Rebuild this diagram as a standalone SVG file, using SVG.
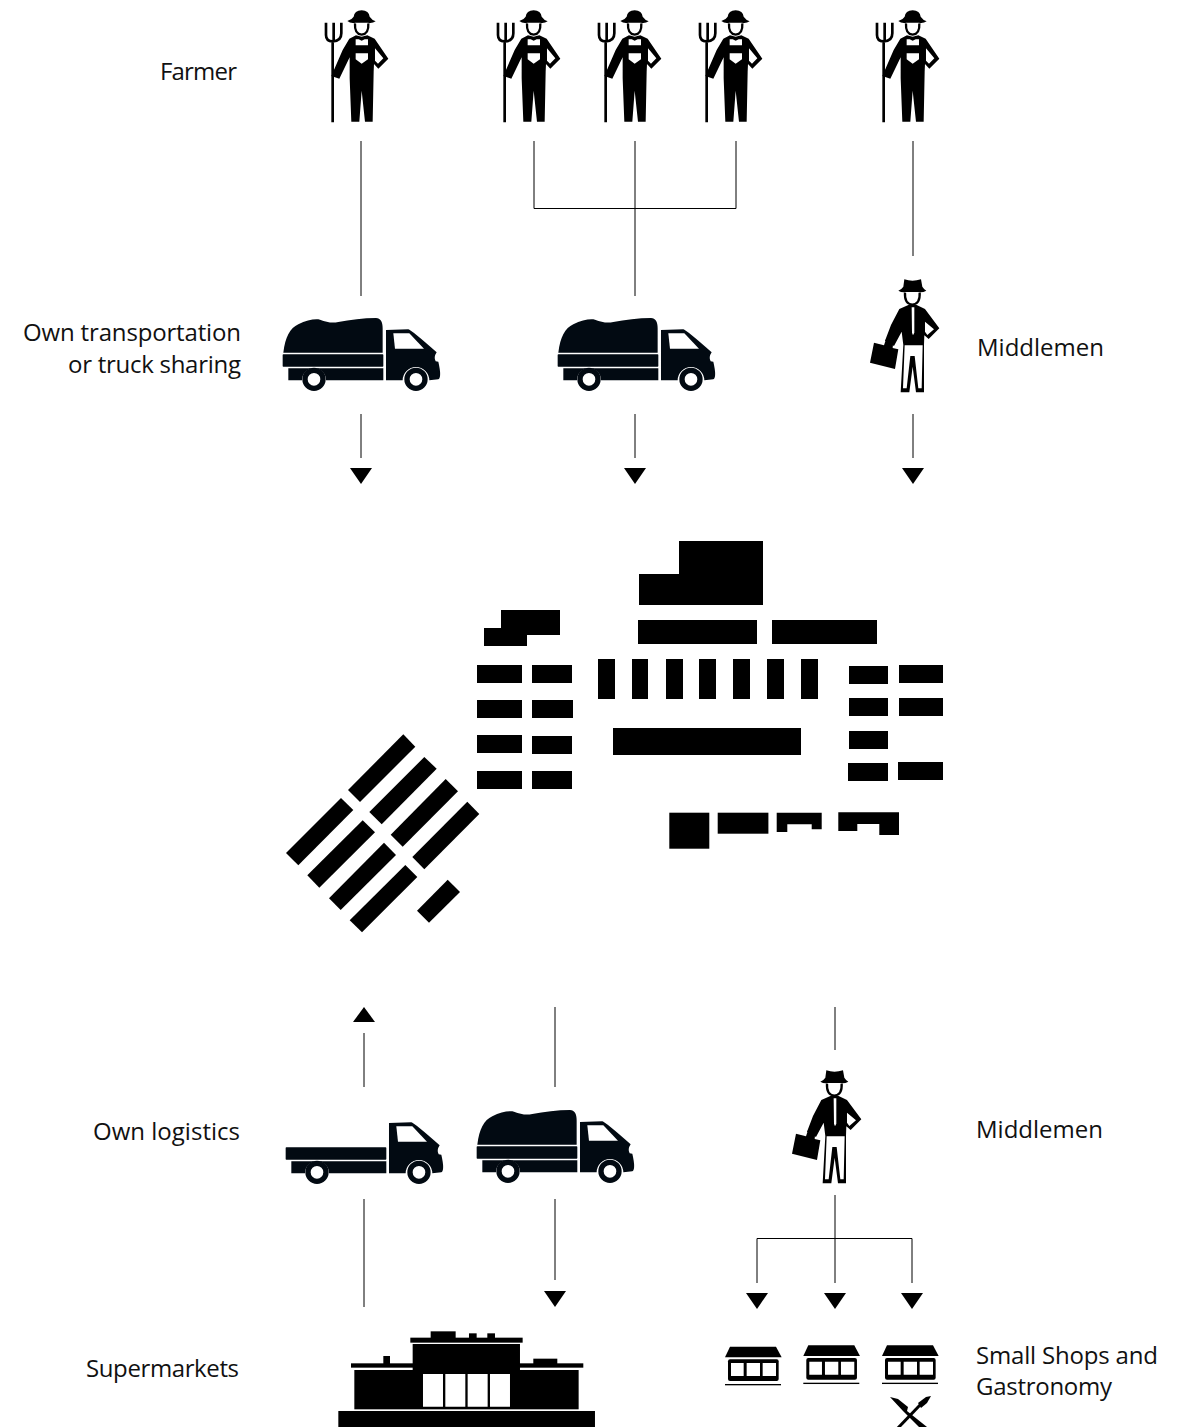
<svg xmlns="http://www.w3.org/2000/svg" width="1183" height="1427" viewBox="0 0 1183 1427">
<style>
text{font-family:"Open Sans","Noto Sans",sans-serif;font-size:24px;fill:#111}
.e{text-anchor:end}
.l{stroke:#000;stroke-width:1;fill:none}
.truck{fill:#020a12}
</style>
<defs>
<polygon id="down" points="-11,0 11,0 0,16" fill="#000"/>
<g id="farmer" transform="translate(310,0) scale(.3333)">
<path d="M112 63Q125 60 131 50Q133 32 155 31Q177 32 179 50Q186 60 197 64Q186 71 174 68L136 68Q122 71 112 63Z"/>
<path d="M135 70Q133 102 155 104Q177 102 175 70" fill="none" stroke="#000" stroke-width="7"/>
<path d="M118 116L138 106L155 110L172 106L194 116L235 176L205 206L192 192L191 215L188 365L165 365L155 272L148 365L124 365L119 235L119 172L88 236L64 228L98 150Z"/>
<path d="M137 118L146 118L155 122L164 118L174 118L174 136L137 136Z M137 160L174 160L174 178L155 191L137 178Z M195 145L220 175L204 191L195 182Z" fill="#fff"/>
<path d="M48 68L48 105Q48 124 68 124Q94 124 94 100L94 68M71 68L71 124M68 124L68 367" fill="none" stroke="#000" stroke-width="8"/>
</g>
<g id="chassis" class="truck" transform="translate(270,300) scale(.3333)">
<rect x="38" y="163" width="302" height="37" rx="2"/>
<path d="M55 205L340 205L340 241L168 241A36 36 0 0 0 96 241L55 241Z"/>
<path d="M348 90L415 88Q424 90 500 157Q490 172 497 184L505 185Q516 232 505 238L478 241A40 40 0 0 0 398 241L348 241Z"/>
<path d="M370 100L418 100L462 146L375 146Z" fill="#fff"/>
<circle cx="132" cy="238" r="27" fill="#fff" stroke="#020a12" stroke-width="16"/>
<circle cx="438" cy="238" r="27" fill="#fff" stroke="#020a12" stroke-width="16"/>
</g>
<g id="tarptruck">
<use href="#chassis"/>
<path class="truck" transform="translate(270,300) scale(.3333)" d="M40 158C46 110 60 85 85 73C110 60 135 56 150 59C170 66 185 70 205 66C240 60 280 54 318 54C332 55 338 65 338 85L338 158Z"/>
</g>
<g id="man" transform="translate(860,270) scale(.3333)">
<path d="M115 62Q125 58 130 50L133 28Q157 36 183 28L187 50Q192 58 199 62Q188 68 175 66L138 66Q125 68 115 62Z"/>
<path d="M135 68Q133 102 157 104Q181 102 179 68" fill="none" stroke="#000" stroke-width="7"/>
<path d="M118 117L145 105L170 105L195 117L238 175L206 207L193 196L192 225L192 367L168 367L158 290L148 367L122 367L130 225L125 185L102 228L75 212L93 165Z"/>
<path d="M155 112L163 112L163 188L159 196L156 188Z M134 226L188 226L185 355L175 355L164 258L151 258L140 355L129 355Z M195 155L222 178L202 195L195 185Z" fill="#fff"/>
<path d="M42 218L72 226L78 208L100 212L98 234L115 238L105 297L30 278Z"/>
</g>
<g id="shop" transform="translate(710,1330) scale(.3333)">
<path d="M60 50L198 50L215 82L45 82Z"/>
<rect x="54" y="88" width="152" height="65" rx="6"/>
<path d="M63 99h38v39h-38zM110 99h40v39h-40zM158 99h40v39h-40z" fill="#fff"/>
<rect x="45" y="162" width="168" height="4"/>
</g>
</defs>

<g id="connectors">
<path class="l" d="M361 141V296M534 141V208.500M635 141V296M736 141V208.500M534 208.500H736M913 141V256M361 414V458M635 414V458M913 414V458M364 1033V1087M555 1007V1087M835 1007V1050M364 1199V1307M555 1199V1280M835 1195V1283M757 1283V1238.500H912V1283"/>
<use href="#down" x="361" y="468"/>
<use href="#down" x="635" y="468"/>
<use href="#down" x="913" y="468"/>
<polygon points="353,1022 375,1022 364,1007"/>
<use href="#down" x="555" y="1291"/>
<use href="#down" x="757" y="1293"/>
<use href="#down" x="835" y="1293"/>
<use href="#down" x="912" y="1293"/>
</g>

<g id="farmer-1"><use href="#farmer"/></g>
<g id="farmer-2"><use href="#farmer" x="172"/></g>
<g id="farmer-3"><use href="#farmer" x="273"/></g>
<g id="farmer-4"><use href="#farmer" x="374"/></g>
<g id="farmer-5"><use href="#farmer" x="551"/></g>
<g id="truck-1"><use href="#tarptruck"/></g>
<g id="truck-2"><use href="#tarptruck" x="275"/></g>
<g id="middleman-1"><use href="#man"/></g>

<g id="market">
<polygon points="679,541 763,541 763,605 639,605 639,574 679,574"/>
<rect x="638" y="620" width="119" height="24"/>
<rect x="772" y="620" width="105" height="24"/>
<polygon points="501,610 560,610 560,635 527,635 527,646 484,646 484,628 501,628"/>
<path d="M477 665h45v18h-45zM532 665h40v18h-40zM477 700h45v18h-45zM532 700h41v18h-41zM477 735h45v18h-45zM532 736h40v18h-40zM477 771h45v18h-45zM532 771h40v18h-40z"/>
<path d="M598 659h17v40h-17zM632 659h16v40h-16zM666 659h17v40h-17zM699 659h17v40h-17zM733 659h17v40h-17zM767 659h17v40h-17zM801 659h17v40h-17z"/>
<rect x="613" y="728" width="188" height="27"/>
<path d="M849 666h39v18h-39zM899 665h44v18h-44zM849 698h39v18h-39zM899 698h44v18h-44zM849 731h39v18h-39zM848 763h40v18h-40zM898 762h45v18h-45z"/>
<rect x="669.300" y="812.700" width="40" height="36"/>
<rect x="717.700" y="812.700" width="50.700" height="21"/>
<polygon points="776.700,812.700 821.700,812.700 821.700,829.300 811.700,829.300 811.700,824.300 787.300,824.300 787.300,832 776.700,832"/>
<polygon points="838.300,812.300 899,812.300 899,835 879.300,835 879.300,824 857.300,824 857.300,831 838.300,831"/>
<polygon points="403.300,734.300 415.300,746.700 360,802 348,790"/>
<polygon points="341,798 353.300,810 298.300,865.300 286,853"/>
<polygon points="424.300,757 436.700,768.700 381.700,824.300 369.300,812"/>
<polygon points="362.700,820.300 375,832.300 319.300,887.700 307.300,875.300"/>
<polygon points="445.700,779 458,791.300 402.700,846.700 390.700,834.700"/>
<polygon points="384,842.700 396,855 340.700,910 329,898.300"/>
<polygon points="467.300,801.700 479.300,814 424.300,869.300 412.300,857"/>
<polygon points="405.300,865 417.300,877 362,932.300 349.700,920.300"/>
<polygon points="447.700,879.700 460,892 429,922.700 417,910.700"/>
</g>

<g id="truck-3"><use href="#chassis" x="3" y="793"/></g>
<g id="truck-4"><use href="#tarptruck" x="194" y="792"/></g>
<g id="middleman-2"><use href="#man" x="-78" y="791"/></g>

<g id="supermarket" transform="translate(330,1320) scale(.3333)">
<rect x="25" y="273" width="770" height="50"/>
<rect x="73" y="150" width="673" height="118"/>
<rect x="63" y="130" width="697" height="13"/>
<rect x="160" y="108" width="20" height="25"/>
<rect x="610" y="116" width="72" height="18"/>
<rect x="248" y="72" width="322" height="190"/>
<rect x="241" y="53" width="337" height="15"/>
<rect x="302" y="34" width="75" height="22"/>
<rect x="417" y="40" width="23" height="15"/>
<rect x="472" y="40" width="23" height="15"/>
<path d="M279 162h60v98h-60zM346 162h60v98h-60zM413 162h60v98h-60zM480 162h60v98h-60z" fill="#fff"/>
</g>

<g id="shop-1"><use href="#shop"/></g>
<g id="shop-2"><use href="#shop" x="78.300" y="-1.300"/></g>
<g id="shop-3"><use href="#shop" x="157" y="-1.300"/></g>
<g id="gastronomy">
<path d="M890 1397L898 1399L908 1407L907 1411L927 1427L921 1429L903 1411Z"/>
<path d="M897 1429L921 1404" stroke="#000" stroke-width="3" fill="none"/>
<path d="M918 1403L926 1397L931 1396L927 1403L921 1408Z"/>
</g>

<g id="labels">
<text class="e" x="237" y="80" textLength="77">Farmer</text>
<text class="e" x="241" y="341" textLength="218">Own transportation</text>
<text class="e" x="241" y="373" textLength="173">or truck sharing</text>
<text x="977" y="356" textLength="127">Middlemen</text>
<text class="e" x="240" y="1140" textLength="147">Own logistics</text>
<text x="976" y="1138" textLength="127">Middlemen</text>
<text class="e" x="239" y="1377" textLength="153">Supermarkets</text>
<text x="976" y="1364" textLength="182">Small Shops and</text>
<text x="976" y="1395" textLength="136">Gastronomy</text>
</g>
</svg>
